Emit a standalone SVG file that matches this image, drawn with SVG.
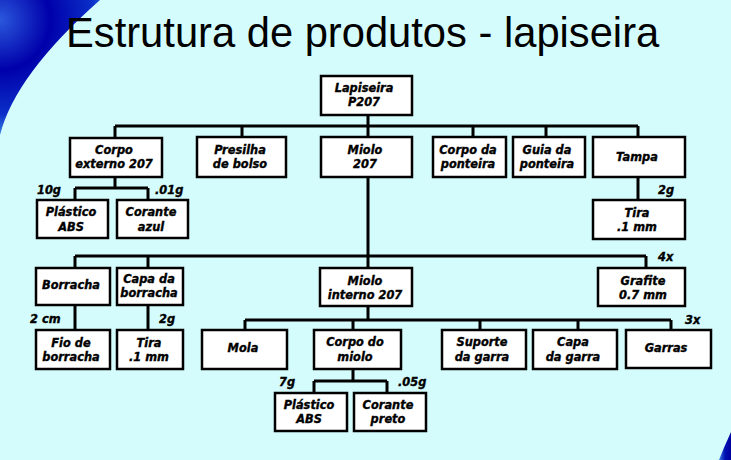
<svg xmlns="http://www.w3.org/2000/svg" width="731" height="460" viewBox="0 0 731 460">
<defs>
<radialGradient id="gTL" gradientUnits="userSpaceOnUse" cx="0" cy="20" r="125">
<stop offset="0" stop-color="#2a58dc"/>
<stop offset="0.4" stop-color="#0000aa"/>
<stop offset="0.75" stop-color="#0b2fc8"/>
<stop offset="1" stop-color="#4aa6f0"/>
</radialGradient>
<linearGradient id="gBR" x1="0" y1="0" x2="1" y2="0">
<stop offset="0" stop-color="#3a7ee8"/>
<stop offset="0.5" stop-color="#0010b0"/>
<stop offset="1" stop-color="#0000a0"/>
</linearGradient>
<style>
.box{fill:#ffffff;stroke:#000000;stroke-width:2.5}
.ln{fill:none;stroke:#000000;stroke-width:3}
.t{font-family:"DejaVu Sans",Verdana,sans-serif;font-weight:bold;font-style:italic;font-size:11.4px;text-anchor:middle;fill:#000000;stroke:#000000;stroke-width:0.35}
.q{font-family:"DejaVu Sans",Verdana,sans-serif;font-weight:bold;font-style:italic;font-size:11.4px;fill:#000000;stroke:#000000;stroke-width:0.35}
.title{font-family:"Liberation Sans",Arial,sans-serif;font-size:41.7px;fill:#000000}
</style>
</defs>
<rect x="0" y="0" width="731" height="460" fill="#d4fcfc"/>
<path d="M0,0 L100,0 Q15,75 0,135 Z" fill="url(#gTL)"/>
<path d="M731,432 Q724,447 719,460 L731,460 Z" fill="url(#gBR)"/>
<text class="title" x="66" y="47">Estrutura de produtos - lapiseira</text>

<g id="connectors">
<path class="ln" d="M368,115 V137 M115,126 H638 M115,126 V138 M242,126 V137 M473,126 V137 M546,126 V137 M638,126 V137"/>
<path class="ln" d="M115,177 V188 M75,188 H148 M75,188 V200 M148,188 V200"/>
<path class="ln" d="M638,177 V200"/>
<path class="ln" d="M368,177 V268 M75,256 H646 M75,256 V268 M148,256 V268 M646,256 V268"/>
<path class="ln" d="M75,305 V330 M148,305 V330"/>
<path class="ln" d="M368,306 V320 M245,320 H671 M245,320 V330 M353,320 V330 M480,320 V330 M578,320 V330 M671,320 V330"/>
<path class="ln" d="M353,369 V381 M314,381 H387 M314,381 V393 M387,381 V393"/>
</g>

<g id="n-lapiseira"><rect class="box" x="321" y="76" width="91" height="39"/><text class="t" x="364" y="92">Lapiseira</text><text class="t" x="364" y="106">P207</text></g>

<g id="n-corpo-externo"><rect class="box" x="70" y="138" width="92" height="39"/><text class="t" x="114" y="154">Corpo</text><text class="t" x="114" y="168">externo 207</text></g>
<g id="n-presilha"><rect class="box" x="197" y="137" width="89" height="40"/><text class="t" x="240" y="154">Presilha</text><text class="t" x="240" y="168">de bolso</text></g>
<g id="n-miolo"><rect class="box" x="321" y="137" width="91" height="40"/><text class="t" x="365" y="154">Miolo</text><text class="t" x="365" y="168">207</text></g>
<g id="n-corpo-ponteira"><rect class="box" x="433" y="137" width="73" height="40"/><text class="t" x="468" y="154">Corpo da</text><text class="t" x="468" y="168">ponteira</text></g>
<g id="n-guia-ponteira"><rect class="box" x="513" y="137" width="72" height="40"/><text class="t" x="547" y="154">Guia da</text><text class="t" x="547" y="168">ponteira</text></g>
<g id="n-tampa"><rect class="box" x="593" y="137" width="92" height="40"/><text class="t" x="637" y="161">Tampa</text></g>

<g id="n-plastico-abs-1"><rect class="box" x="37" y="200" width="71" height="38"/><text class="t" x="71" y="216">Plástico</text><text class="t" x="71" y="231">ABS</text></g>
<g id="n-corante-azul"><rect class="box" x="117" y="200" width="71" height="38"/><text class="t" x="151" y="216">Corante</text><text class="t" x="151" y="231">azul</text></g>
<g id="n-tira-tampa"><rect class="box" x="593" y="200" width="92" height="39"/><text class="t" x="637" y="217">Tira</text><text class="t" x="637" y="231">.1 mm</text></g>

<g id="n-borracha"><rect class="box" x="36" y="268" width="74" height="37"/><text class="t" x="71" y="289">Borracha</text></g>
<g id="n-capa-borracha"><rect class="box" x="117" y="268" width="66" height="37"/><text class="t" x="149" y="283">Capa da</text><text class="t" x="149" y="297">borracha</text></g>
<g id="n-miolo-interno"><rect class="box" x="320" y="268" width="92" height="38"/><text class="t" x="365" y="285">Miolo</text><text class="t" x="365" y="299">interno 207</text></g>
<g id="n-grafite"><rect class="box" x="598" y="268" width="87" height="38"/><text class="t" x="643" y="285">Grafite</text><text class="t" x="643" y="299">0.7 mm</text></g>

<g id="n-fio-borracha"><rect class="box" x="36" y="330" width="74" height="39"/><text class="t" x="71" y="347">Fio de</text><text class="t" x="71" y="361">borracha</text></g>
<g id="n-tira-capa"><rect class="box" x="117" y="330" width="66" height="39"/><text class="t" x="149" y="347">Tira</text><text class="t" x="149" y="361">.1 mm</text></g>
<g id="n-mola"><rect class="box" x="202" y="330" width="85" height="39"/><text class="t" x="243" y="352">Mola</text></g>
<g id="n-corpo-miolo"><rect class="box" x="314" y="330" width="87" height="39"/><text class="t" x="355" y="346">Corpo do</text><text class="t" x="355" y="361">miolo</text></g>
<g id="n-suporte-garra"><rect class="box" x="442" y="330" width="84" height="39"/><text class="t" x="482" y="346">Suporte</text><text class="t" x="482" y="361">da garra</text></g>
<g id="n-capa-garra"><rect class="box" x="533" y="330" width="84" height="39"/><text class="t" x="573" y="346">Capa</text><text class="t" x="573" y="361">da garra</text></g>
<g id="n-garras"><rect class="box" x="626" y="330" width="85" height="38"/><text class="t" x="666" y="352">Garras</text></g>

<g id="n-plastico-abs-2"><rect class="box" x="275" y="393" width="72" height="38"/><text class="t" x="309" y="409">Plástico</text><text class="t" x="309" y="423">ABS</text></g>
<g id="n-corante-preto"><rect class="box" x="354" y="393" width="72" height="38"/><text class="t" x="388" y="409">Corante</text><text class="t" x="388" y="423">preto</text></g>

<g id="quantities">
<text class="q" x="37" y="194">10g</text>
<text class="q" x="155" y="194">.01g</text>
<text class="q" x="658" y="194">2g</text>
<text class="q" x="658" y="261">4x</text>
<text class="q" x="30" y="323">2 cm</text>
<text class="q" x="159" y="323">2g</text>
<text class="q" x="685" y="324">3x</text>
<text class="q" x="279" y="386">7g</text>
<text class="q" x="398" y="386">.05g</text>
</g>
</svg>
